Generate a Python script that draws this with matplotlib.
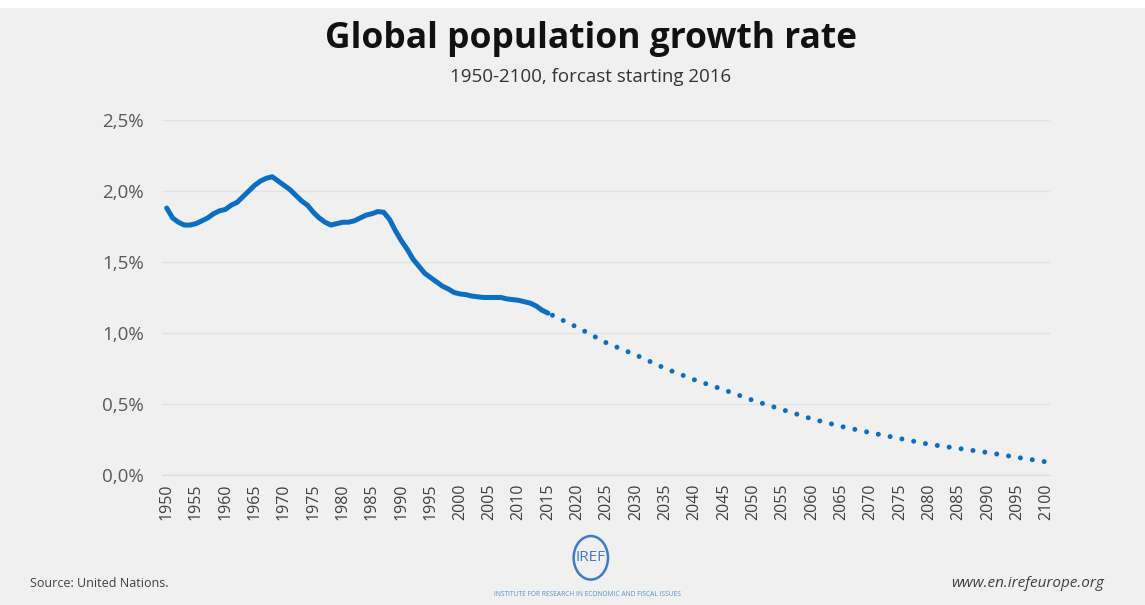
import numpy as np
import matplotlib.pyplot as plt
from matplotlib.patches import Ellipse, Rectangle

# Historical growth rate (%), 1950-2015
years_hist = np.arange(1950, 2016)
rate_hist = [1.88, 1.81, 1.78, 1.76, 1.76, 1.77, 1.79, 1.81, 1.84, 1.86,
             1.87, 1.90, 1.92, 1.96, 2.00, 2.04, 2.07, 2.09, 2.10, 2.07,
             2.04, 2.01, 1.97, 1.93, 1.90, 1.85, 1.81, 1.78, 1.76, 1.77,
             1.78, 1.78, 1.79, 1.81, 1.83, 1.84, 1.855, 1.85, 1.80, 1.72,
             1.65, 1.59, 1.52, 1.47, 1.42, 1.39, 1.36, 1.33, 1.31, 1.285,
             1.275, 1.27, 1.26, 1.255, 1.25, 1.25, 1.25, 1.25, 1.24, 1.235,
             1.23, 1.22, 1.21, 1.19, 1.16, 1.14]

# Forecast (%), 2015-2100
years_fc = [2015, 2020, 2025, 2030, 2035, 2040, 2045, 2050, 2055, 2060,
            2065, 2070, 2075, 2080, 2085, 2090, 2095, 2100]
rate_fc = [1.14, 1.04, 0.93, 0.845, 0.75, 0.67, 0.60, 0.525, 0.46, 0.395,
           0.342, 0.298, 0.257, 0.216, 0.187, 0.158, 0.124, 0.092]

yticks = [0.0, 0.5, 1.0, 1.5, 2.0, 2.5]
ytick_labels = ['0,0%', '0,5%', '1,0%', '1,5%', '2,0%', '2,5%']
xticks = list(range(1950, 2101, 5))

bg = '#f0f0f0'
blue = '#0a6fc2'

fig = plt.figure(figsize=(11.45, 6.05), dpi=100, facecolor=bg)
# thin white border at the top like the screenshot
fig.patches.append(Rectangle((0, 0.988), 1, 0.012, transform=fig.transFigure,
                             color='white', zorder=0))

ax = fig.add_axes([0.1415, 0.2149, 0.9170 - 0.1415, 0.8017 - 0.2149])
ax.set_facecolor(bg)

ax.plot(years_hist, rate_hist, color=blue, lw=3.6, solid_capstyle='round',
        solid_joinstyle='round', zorder=3)
ax.plot(years_fc, rate_fc, color=blue, lw=3.6,
        linestyle=(1.4, (0.001, 2.4)), dash_capstyle='round', zorder=3)

ax.set_xlim(1949.2, 2100.6)
ax.set_ylim(0, 2.5)
ax.set_yticks(yticks)
ax.set_yticklabels(ytick_labels, fontsize=13.5, color='#595959', family='Open Sans')
ax.set_xticks(xticks)
ax.set_xticklabels([str(x) for x in xticks], rotation=90, fontsize=11.5,
                   color='#404040', family='Open Sans')
ax.tick_params(length=0, pad=6)
ax.tick_params(axis='y', pad=13)
ax.grid(axis='y', color='#e2e2e2', lw=1)
ax.set_axisbelow(True)
for s in ['top', 'right', 'left']:
    ax.spines[s].set_visible(False)
ax.spines['bottom'].set_color('#dadada')

fig.text(0.516, 0.935, 'Global population growth rate', ha='center', va='center',
         fontsize=25.5, fontweight='bold', family='Open Sans', color='#111111')
fig.text(0.516, 0.873, '1950-2100, forcast starting 2016', ha='center', va='center',
         fontsize=13.5, family='Open Sans', color='#333333')

fig.text(0.026, 0.036, 'Source: United Nations.', ha='left', va='center',
         fontsize=9, family='Open Sans', color='#404040')
fig.text(0.964, 0.036, 'www.en.irefeurope.org', ha='right', va='center',
         fontsize=11, style='italic', family='Open Sans', color='#404040')

# IREF logo
fig.patches.append(Ellipse((0.516, 0.078), 0.030, 0.072, transform=fig.transFigure,
                           fill=False, ec='#3d7cc9', lw=1.8))
fig.text(0.516, 0.078, 'IREF', ha='center', va='center', fontsize=11,
         family='Open Sans', color='#3d7cc9')
fig.text(0.513, 0.018, 'INSTITUTE FOR RESEARCH IN ECONOMIC AND FISCAL ISSUES',
         ha='center', va='center', fontsize=4.8, family='Open Sans', color='#5b8fd0')

fig.savefig('out.png', dpi=100, facecolor=bg)
